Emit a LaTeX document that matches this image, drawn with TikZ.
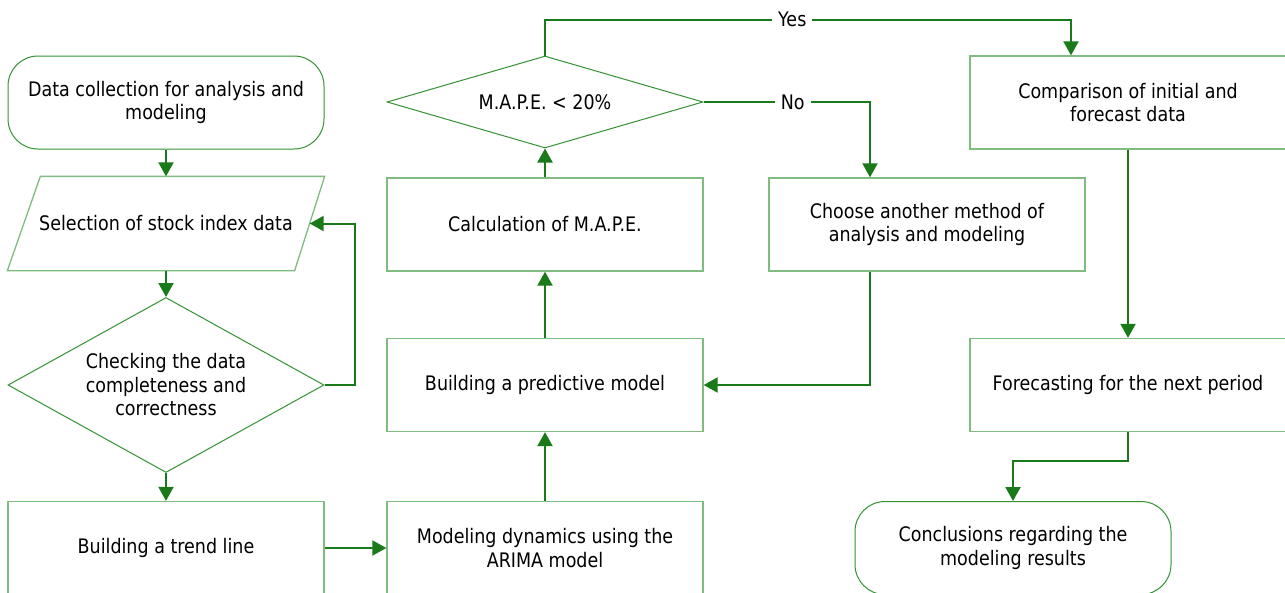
\documentclass[tikz,border=0pt]{standalone}
\usepackage{fontspec}
\setmainfont{DejaVu Sans}[FakeStretch=0.875]
\usetikzlibrary{shapes.geometric,arrows.meta}
\definecolor{boxgreen}{RGB}{128,188,128}
\definecolor{edgegreen}{RGB}{52,146,52}
\definecolor{flowgreen}{RGB}{26,122,26}

\begin{document}
\begin{tikzpicture}[x=1pt, y=-1pt,
    every node/.style={font=\fontsize{20}{23.5}\selectfont, align=center, inner sep=0pt},
    process/.style={draw=boxgreen, line width=1.3pt, minimum width=316pt, minimum height=93pt},
    terminal/.style={process, draw=edgegreen, line width=1pt, rounded corners=30pt},
    decision/.style={diamond, draw=edgegreen, line width=1pt, minimum width=316pt},
    outline/.style={draw=boxgreen, line width=1.3pt},
    flow/.style={draw=flowgreen, line width=2pt, -{Triangle[length=14pt,width=15pt]}},
    answer/.style={fill=white, inner xsep=6pt, inner ysep=2pt}]

  \useasboundingbox[fill=white] (0,0) rectangle (1285,592);

  % left column
  \node[terminal] (collect) at (166,102.5) {Data collection for analysis and\\modeling};
  \node[process, draw=none] (select) at (166,223.5) {Selection of stock index data};
  \draw[outline] ([xshift=33pt]select.north west) -- (select.north east)
    -- ([xshift=-30pt]select.south east) -- (select.south west) -- cycle;
  \coordinate (selside) at ([xshift=-15pt]select.east);
  \node[decision, minimum height=175pt, aspect=1.806] (check) at (166,385) {Checking the data\\completeness and\\correctness};
  \node[process] (trend) at (166,548) {Building a trend line};

  % middle column
  \node[process] (arima) at (545,548) {Modeling dynamics using the\\ARIMA model};
  \node[process] (predict) at (545,385) {Building a predictive model};
  \node[process] (mape) at (545,224.5) {Calculation of M.A.P.E.};
  \node[decision, minimum height=92pt, aspect=3.43] (test) at (545,102) {M.A.P.E. < 20\%};

  % right part
  \node[process] (other) at (927,224.5) {Choose another method of\\analysis and modeling};
  \node[process] (compare) at (1128,102.5) {Comparison of initial and\\forecast data};
  \node[process] (forecast) at (1128,385) {Forecasting for the next period};
  \node[terminal] (concl) at (1013,548) {Conclusions regarding the\\modeling results};

  % connectors
  \draw[flow] (collect) -- (select);
  \draw[flow] (select) -- (check);
  \draw[flow] (check.east) -- ++(30,0) |- (selside);
  \draw[flow] (check) -- (trend);
  \draw[flow] (trend) -- (arima);
  \draw[flow] (arima) -- (predict);
  \draw[flow] (predict) -- (mape);
  \draw[flow] (mape) -- (test);
  \draw[flow] (test.north) -- ++(0,-36) -| node[answer, pos=0.235] {Yes} ([xshift=-57pt]compare.north);
  \draw[flow] (test.east) -| node[answer, pos=0.268] {No} ([xshift=-57pt]other.north);
  \draw[flow] ([xshift=-57pt]other.south) |- (predict.east);
  \draw[flow] (compare) -- (forecast);
  \draw[flow] (forecast.south) -- ++(0,29) -| (concl.north);

\end{tikzpicture}
\end{document}
